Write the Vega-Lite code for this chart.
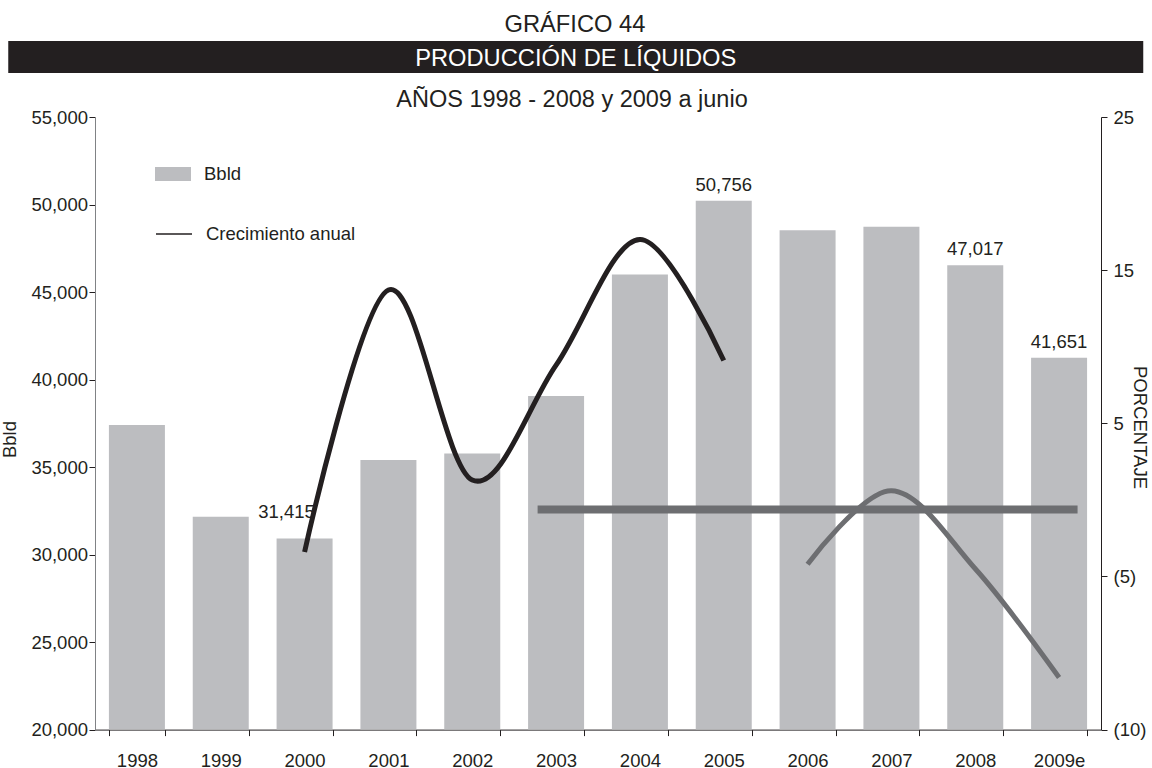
{
  "$schema": "https://vega.github.io/schema/vega-lite/v6.json",
  "padding": {"left": 0, "top": 12, "right": 0, "bottom": 0},
  "title": {"text": "GRÁFICO 44", "fontSize": 23.7, "fontWeight": "normal", "color": "#231f20", "anchor": "start", "frame": "bounds", "dx": 504.5, "offset": 4.5},
  "spacing": 14,
  "center": true,
  "vconcat": [
    {
      "width": 1135,
      "height": 32,
      "view": {"fill": "#231f20", "stroke": null},
      "data": {"values": [{"titulo": "PRODUCCIÓN DE LÍQUIDOS", "pos": 0}]},
      "mark": {"type": "text", "color": "#ffffff", "fontSize": 23.7, "baseline": "middle", "dy": 1.5},
      "encoding": {
        "text": {"field": "titulo", "type": "nominal"},
        "y": {"field": "pos", "type": "quantitative", "scale": {"domain": [-1, 1]}, "axis": {"orient": "right", "offset": 91.5, "domainOpacity": 0, "ticks": false, "labels": false, "title": null, "grid": false}}
      }
    },
    {
      "title": {"text": "AÑOS 1998 - 2008 y 2009 a junio", "fontSize": 23.5, "fontWeight": "normal", "color": "#231f20", "anchor": "middle", "frame": "bounds", "offset": -3, "dx": -2},
      "width": 1006,
      "height": 612.6,
      "encoding": {
        "x": {
          "field": "anio",
          "type": "nominal",
          "scale": {"domain": ["1998", "1999", "2000", "2001", "2002", "2003", "2004", "2005", "2006", "2007", "2008", "2009e"], "paddingInner": 0.332, "paddingOuter": 0.166},
          "axis": {"title": null, "labelAngle": 0, "tickBand": "extent", "labelPadding": 15.5, "domainColor": "#231f20", "tickColor": "#231f20", "tickSize": 6}
        }
      },
      "layer": [
        {
          "data": {"values": [
            {"anio": "1998", "bbld": 37406},
            {"anio": "1999", "bbld": 32161},
            {"anio": "2000", "bbld": 30924, "etiqueta": 31415},
            {"anio": "2001", "bbld": 35410},
            {"anio": "2002", "bbld": 35770},
            {"anio": "2003", "bbld": 39060},
            {"anio": "2004", "bbld": 46000},
            {"anio": "2005", "bbld": 50217, "etiqueta": 50756},
            {"anio": "2006", "bbld": 48524},
            {"anio": "2007", "bbld": 48734},
            {"anio": "2008", "bbld": 46528, "etiqueta": 47017},
            {"anio": "2009e", "bbld": 41243, "etiqueta": 41651}
          ]},
          "encoding": {
            "y": {
              "field": "bbld",
              "type": "quantitative",
              "scale": {"domain": [20000, 55000], "zero": false, "nice": false},
              "axis": {"title": "Bbld", "values": [20000, 25000, 30000, 35000, 40000, 45000, 50000, 55000], "format": ",.0f", "labelPadding": 1.5, "tickSize": 6, "domainColor": "#808285", "tickColor": "#231f20", "titleX": -86, "titleY": 322, "titleBaseline": "middle"}
            }
          },
          "layer": [
            {
              "mark": {"type": "bar"},
              "encoding": {
                "y2": {"datum": 20000},
                "fill": {
                  "datum": "Bbld",
                  "scale": {"range": ["#bcbdc0"]},
                  "legend": {"orient": "none", "legendX": 147, "legendY": 115, "title": null, "padding": 0, "symbolType": "M-1,-0.389H1V0.389H-1Z", "symbolSize": 1296, "symbolStrokeWidth": 0, "labelFontSize": 18.5, "labelOffset": 13, "labelColor": "#231f20"}
                }
              }
            },
            {
              "transform": [{"filter": "isValid(datum.etiqueta) && datum.anio != '2000'"}],
              "mark": {"type": "text", "baseline": "alphabetic", "dy": -10, "fontSize": 18.5, "color": "#231f20"},
              "encoding": {"text": {"field": "etiqueta", "type": "quantitative", "format": ",.0f"}}
            },
            {
              "transform": [{"filter": "datum.anio == '2000'"}],
              "mark": {"type": "text", "baseline": "alphabetic", "dy": -20, "dx": -18, "fontSize": 18.5, "color": "#231f20"},
              "encoding": {"text": {"field": "etiqueta", "type": "quantitative", "format": ",.0f"}}
            }
          ]
        },
        {
          "encoding": {
            "y": {
              "field": "crec",
              "type": "quantitative",
              "scale": {"domain": [-15, 25], "nice": false, "zero": false},
              "axis": {"orient": "right", "title": "PORCENTAJE", "values": [25, 15, 5, -5, -15], "labelExpr": "datum.value == -15 ? '(10)' : (datum.value < 0 ? '(' + (-datum.value) + ')' : '' + datum.value)", "labelPadding": 6, "tickSize": 6, "domainColor": "#231f20", "tickColor": "#231f20", "titleX": 38, "titleY": 310, "titleBaseline": "middle"}
            }
          },
          "layer": [
            {
              "data": {"values": [
                {"anio": "2003", "hasta": "2009e", "crec": -0.63}
              ]},
              "mark": {"type": "rule", "strokeWidth": 8, "color": "#6d6e71"},
              "encoding": {
                "x": {"field": "anio", "type": "nominal", "bandPosition": 0.17},
                "x2": {"field": "hasta", "bandPosition": 0.83}
              }
            },
            {
              "data": {"values": [
                {"anio": "2000", "serie": "Crecimiento anual", "crec": -3.4},
                {"anio": "2001", "serie": "Crecimiento anual", "crec": 13.7},
                {"anio": "2002", "serie": "Crecimiento anual", "crec": 1.3},
                {"anio": "2003", "serie": "Crecimiento anual", "crec": 8.8},
                {"anio": "2004", "serie": "Crecimiento anual", "crec": 17.0},
                {"anio": "2005", "serie": "Crecimiento anual", "crec": 9.1},
                {"anio": "2006", "serie": "Crecimiento anual 2006-2009e", "crec": -4.2},
                {"anio": "2007", "serie": "Crecimiento anual 2006-2009e", "crec": 0.6},
                {"anio": "2008", "serie": "Crecimiento anual 2006-2009e", "crec": -4.5},
                {"anio": "2009e", "serie": "Crecimiento anual 2006-2009e", "crec": -11.6}
              ]},
              "mark": {"type": "line", "strokeWidth": 5, "interpolate": "cardinal", "tension": 0, "strokeCap": "butt"},
              "encoding": {
                "stroke": {
                  "field": "serie",
                  "type": "nominal",
                  "scale": {"domain": ["Crecimiento anual", "Crecimiento anual 2006-2009e"], "range": ["#231f20", "#6d6e71"]},
                  "legend": {"orient": "none", "legendX": 147, "legendY": 174, "title": null, "padding": 0, "values": ["Crecimiento anual"], "symbolType": "stroke", "symbolSize": 1296, "symbolStrokeWidth": 1.5, "labelFontSize": 18.5, "labelOffset": 13, "labelColor": "#231f20"}
                }
              }
            }
          ]
        }
      ],
      "resolve": {"scale": {"y": "independent"}}
    }
  ],
  "config": {
    "font": "Liberation Sans",
    "view": {"stroke": null},
    "axis": {"labelFontSize": 18.5, "titleFontSize": 18.5, "titleFontWeight": "normal", "labelColor": "#231f20", "titleColor": "#231f20", "grid": false, "labelFont": "Liberation Sans", "titleFont": "Liberation Sans"},
    "legend": {"labelFont": "Liberation Sans"},
    "title": {"font": "Liberation Sans"}
  }
}
